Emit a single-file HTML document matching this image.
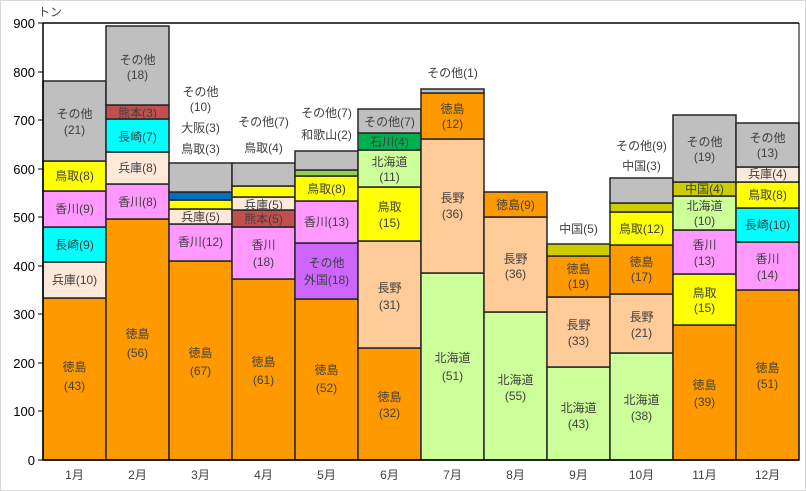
<!DOCTYPE html>
<html><head><meta charset="utf-8"><style>
body{margin:0;background:#fff}
svg{display:block;font-family:"Liberation Sans","Noto Sans CJK JP",sans-serif}
text{font-size:12px;fill:#404040;text-anchor:middle}
.y{text-anchor:end;font-size:13px;fill:#000}
rect.s{stroke:#262626;stroke-width:1.5}
</style></head><body>
<svg width="806" height="491" viewBox="0 0 806 491">
<rect x="0.5" y="0.5" width="805" height="490" fill="#fff" stroke="#d9d9d9"/>
<text x="50" y="16" style="font-size:12px">トン</text>
<g>
<text class="y" x="35" y="28">900</text><text class="y" x="35" y="77">800</text><text class="y" x="35" y="125">700</text>
<text class="y" x="35" y="174">600</text><text class="y" x="35" y="222">500</text><text class="y" x="35" y="271">400</text>
<text class="y" x="35" y="319">300</text><text class="y" x="35" y="368">200</text><text class="y" x="35" y="416">100</text>
<text class="y" x="35" y="465">0</text>
</g>
<!-- 1月 -->
<g>
<rect class="s" x="43" y="298" width="63" height="162" fill="#FF9900"/>
<rect class="s" x="43" y="262" width="63" height="36" fill="#FDE9D9"/>
<rect class="s" x="43" y="227" width="63" height="35" fill="#00FFFF"/>
<rect class="s" x="43" y="191" width="63" height="36" fill="#FF99FF"/>
<rect class="s" x="43" y="161" width="63" height="30" fill="#FFFF00"/>
<rect class="s" x="43" y="81" width="63" height="80" fill="#BFBFBF"/>
<text x="74.5" y="371">徳島</text><text x="74.5" y="390">(43)</text>
<text x="74.5" y="284">兵庫(10)</text><text x="74.5" y="249">長崎(9)</text><text x="74.5" y="213">香川(9)</text>
<text x="74.5" y="180">鳥取(8)</text><text x="74.5" y="118">その他</text><text x="74.5" y="134">(21)</text>
</g>
<!-- 2月 -->
<g>
<rect class="s" x="106" y="219" width="63" height="241" fill="#FF9900"/>
<rect class="s" x="106" y="184" width="63" height="35" fill="#FF99FF"/>
<rect class="s" x="106" y="152" width="63" height="32" fill="#FDE9D9"/>
<rect class="s" x="106" y="119" width="63" height="33" fill="#00FFFF"/>
<rect class="s" x="106" y="105" width="63" height="14" fill="#C0504D"/>
<rect class="s" x="106" y="26" width="63" height="79" fill="#BFBFBF"/>
<text x="137.5" y="338">徳島</text><text x="137.5" y="357">(56)</text>
<text x="137.5" y="206">香川(8)</text><text x="137.5" y="172">兵庫(8)</text><text x="137.5" y="141">長崎(7)</text>
<text x="137.5" y="117">熊本(3)</text><text x="137.5" y="64">その他</text><text x="137.5" y="79">(18)</text>
</g>
<!-- 3月 -->
<g>
<rect class="s" x="169" y="261" width="63" height="199" fill="#FF9900"/>
<rect class="s" x="169" y="224" width="63" height="37" fill="#FF99FF"/>
<rect class="s" x="169" y="209" width="63" height="15" fill="#FDE9D9"/>
<rect class="s" x="169" y="200" width="63" height="9" fill="#FFFF00"/>
<rect class="s" x="169" y="192" width="63" height="8" fill="#0070C0"/>
<rect class="s" x="169" y="163" width="63" height="29" fill="#BFBFBF"/>
<text x="200.5" y="357">徳島</text><text x="200.5" y="375">(67)</text>
<text x="200.5" y="246">香川(12)</text><text x="200.5" y="221">兵庫(5)</text>
<text x="200.5" y="96">その他</text><text x="200.5" y="111">(10)</text><text x="200.5" y="132">大阪(3)</text><text x="200.5" y="153">鳥取(3)</text>
</g>
<!-- 4月 -->
<g>
<rect class="s" x="232" y="279" width="63" height="181" fill="#FF9900"/>
<rect class="s" x="232" y="227" width="63" height="52" fill="#FF99FF"/>
<rect class="s" x="232" y="210" width="63" height="17" fill="#C0504D"/>
<rect class="s" x="232" y="197" width="63" height="13" fill="#FDE9D9"/>
<rect class="s" x="232" y="186" width="63" height="11" fill="#FFFF00"/>
<rect class="s" x="232" y="163" width="63" height="23" fill="#BFBFBF"/>
<text x="263.5" y="366">徳島</text><text x="263.5" y="384">(61)</text>
<text x="263.5" y="249">香川</text><text x="263.5" y="266">(18)</text>
<text x="263.5" y="223">熊本(5)</text><text x="263.5" y="209">兵庫(5)</text>
<text x="263.5" y="126">その他(7)</text><text x="263.5" y="152">鳥取(4)</text>
</g>
<!-- 5月 -->
<g>
<rect class="s" x="295" y="299" width="63" height="161" fill="#FF9900"/>
<rect class="s" x="295" y="243" width="63" height="56" fill="#CC66FF"/>
<rect class="s" x="295" y="201" width="63" height="42" fill="#FF99FF"/>
<rect class="s" x="295" y="176" width="63" height="25" fill="#FFFF00"/>
<rect class="s" x="295" y="170" width="63" height="6" fill="#92D050"/>
<rect class="s" x="295" y="151" width="63" height="19" fill="#BFBFBF"/>
<text x="326.5" y="374">徳島</text><text x="326.5" y="392">(52)</text>
<text x="326.5" y="267">その他</text><text x="326.5" y="284">外国(18)</text>
<text x="326.5" y="226">香川(13)</text><text x="326.5" y="193">鳥取(8)</text>
<text x="326.5" y="117">その他(7)</text><text x="326.5" y="139">和歌山(2)</text>
</g>
<!-- 6月 -->
<g>
<rect class="s" x="358" y="348" width="63" height="112" fill="#FF9900"/>
<rect class="s" x="358" y="241" width="63" height="107" fill="#FFCC99"/>
<rect class="s" x="358" y="187" width="63" height="54" fill="#FFFF00"/>
<rect class="s" x="358" y="150" width="63" height="37" fill="#CCFF99"/>
<rect class="s" x="358" y="133" width="63" height="17" fill="#00B050"/>
<rect class="s" x="358" y="109" width="63" height="24" fill="#BFBFBF"/>
<text x="389.5" y="401">徳島</text><text x="389.5" y="417">(32)</text>
<text x="389.5" y="292">長野</text><text x="389.5" y="309">(31)</text>
<text x="389.5" y="211">鳥取</text><text x="389.5" y="227">(15)</text>
<text x="389.5" y="166">北海道</text><text x="389.5" y="181">(11)</text>
<text x="389.5" y="146">石川(4)</text><text x="389.5" y="126">その他(7)</text>
</g>
<!-- 7月 -->
<g>
<rect class="s" x="421" y="273" width="63" height="187" fill="#CCFF99"/>
<rect class="s" x="421" y="139" width="63" height="134" fill="#FFCC99"/>
<rect class="s" x="421" y="93" width="63" height="46" fill="#FF9900"/>
<rect class="s" x="421" y="89" width="63" height="4" fill="#BFBFBF"/>
<text x="452.5" y="362">北海道</text><text x="452.5" y="380">(51)</text>
<text x="452.5" y="202">長野</text><text x="452.5" y="218">(36)</text>
<text x="452.5" y="113">徳島</text><text x="452.5" y="128">(12)</text>
<text x="452.5" y="77">その他(1)</text>
</g>
<!-- 8月 -->
<g>
<rect class="s" x="484" y="312" width="63" height="148" fill="#CCFF99"/>
<rect class="s" x="484" y="217" width="63" height="95" fill="#FFCC99"/>
<rect class="s" x="484" y="192" width="63" height="25" fill="#FF9900"/>
<text x="515.5" y="384">北海道</text><text x="515.5" y="400">(55)</text>
<text x="515.5" y="263">長野</text><text x="515.5" y="278">(36)</text>
<text x="515.5" y="209">徳島(9)</text>
</g>
<!-- 9月 -->
<g>
<rect class="s" x="547" y="367" width="63" height="93" fill="#CCFF99"/>
<rect class="s" x="547" y="297" width="63" height="70" fill="#FFCC99"/>
<rect class="s" x="547" y="256" width="63" height="41" fill="#FF9900"/>
<rect class="s" x="547" y="244" width="63" height="12" fill="#CCCC00"/>
<text x="578.5" y="412">北海道</text><text x="578.5" y="428">(43)</text>
<text x="578.5" y="329">長野</text><text x="578.5" y="345">(33)</text>
<text x="578.5" y="273">徳島</text><text x="578.5" y="288">(19)</text>
<text x="578.5" y="233">中国(5)</text>
</g>
<!-- 10月 -->
<g>
<rect class="s" x="610" y="353" width="63" height="107" fill="#CCFF99"/>
<rect class="s" x="610" y="294" width="63" height="59" fill="#FFCC99"/>
<rect class="s" x="610" y="245" width="63" height="49" fill="#FF9900"/>
<rect class="s" x="610" y="212" width="63" height="33" fill="#FFFF00"/>
<rect class="s" x="610" y="203" width="63" height="9" fill="#CCCC00"/>
<rect class="s" x="610" y="178" width="63" height="25" fill="#BFBFBF"/>
<text x="641.5" y="404">北海道</text><text x="641.5" y="420">(38)</text>
<text x="641.5" y="321">長野</text><text x="641.5" y="337">(21)</text>
<text x="641.5" y="266">徳島</text><text x="641.5" y="281">(17)</text>
<text x="641.5" y="233">鳥取(12)</text>
<text x="641.5" y="150">その他(9)</text><text x="641.5" y="170">中国(3)</text>
</g>
<!-- 11月 -->
<g>
<rect class="s" x="673" y="325" width="63" height="135" fill="#FF9900"/>
<rect class="s" x="673" y="274" width="63" height="51" fill="#FFFF00"/>
<rect class="s" x="673" y="230" width="63" height="44" fill="#FF99FF"/>
<rect class="s" x="673" y="196" width="63" height="34" fill="#CCFF99"/>
<rect class="s" x="673" y="182" width="63" height="14" fill="#CCCC00"/>
<rect class="s" x="673" y="115" width="63" height="67" fill="#BFBFBF"/>
<text x="704.5" y="389">徳島</text><text x="704.5" y="406">(39)</text>
<text x="704.5" y="297">鳥取</text><text x="704.5" y="312">(15)</text>
<text x="704.5" y="249">香川</text><text x="704.5" y="265">(13)</text>
<text x="704.5" y="210">北海道</text><text x="704.5" y="225">(10)</text>
<text x="704.5" y="193">中国(4)</text>
<text x="704.5" y="146">その他</text><text x="704.5" y="161">(19)</text>
</g>
<!-- 12月 -->
<g>
<rect class="s" x="736" y="290" width="63" height="170" fill="#FF9900"/>
<rect class="s" x="736" y="242" width="63" height="48" fill="#FF99FF"/>
<rect class="s" x="736" y="208" width="63" height="34" fill="#00FFFF"/>
<rect class="s" x="736" y="182" width="63" height="26" fill="#FFFF00"/>
<rect class="s" x="736" y="167" width="63" height="15" fill="#FDE9D9"/>
<rect class="s" x="736" y="123" width="63" height="44" fill="#BFBFBF"/>
<text x="767.5" y="372">徳島</text><text x="767.5" y="388">(51)</text>
<text x="767.5" y="263">香川</text><text x="767.5" y="279">(14)</text>
<text x="767.5" y="229">長崎(10)</text><text x="767.5" y="199">鳥取(8)</text>
<text x="767.5" y="178">兵庫(4)</text>
<text x="767.5" y="142">その他</text><text x="767.5" y="157">(13)</text>
</g>
<!-- axes -->
<line x1="43" y1="23" x2="799" y2="23" stroke="#000" stroke-width="1.5"/>
<line x1="799" y1="23" x2="799" y2="460" stroke="#000" stroke-width="1"/>
<line x1="43" y1="23" x2="43" y2="460" stroke="#000" stroke-width="1.5"/>
<line x1="43" y1="460" x2="799" y2="460" stroke="#000" stroke-width="1.5"/>
<g stroke="#000">
<line x1="38" y1="23" x2="43" y2="23"/><line x1="38" y1="72" x2="43" y2="72"/><line x1="38" y1="120" x2="43" y2="120"/>
<line x1="38" y1="169" x2="43" y2="169"/><line x1="38" y1="217" x2="43" y2="217"/><line x1="38" y1="266" x2="43" y2="266"/>
<line x1="38" y1="314" x2="43" y2="314"/><line x1="38" y1="363" x2="43" y2="363"/><line x1="38" y1="411" x2="43" y2="411"/>
<line x1="38" y1="460" x2="43" y2="460"/>
</g>
<g>
<text x="74.5" y="479">1月</text><text x="137.5" y="479">2月</text><text x="200.5" y="479">3月</text><text x="263.5" y="479">4月</text>
<text x="326.5" y="479">5月</text><text x="389.5" y="479">6月</text><text x="452.5" y="479">7月</text><text x="515.5" y="479">8月</text>
<text x="578.5" y="479">9月</text><text x="641.5" y="479">10月</text><text x="704.5" y="479">11月</text><text x="767.5" y="479">12月</text>
</g>
</svg>
</body></html>
